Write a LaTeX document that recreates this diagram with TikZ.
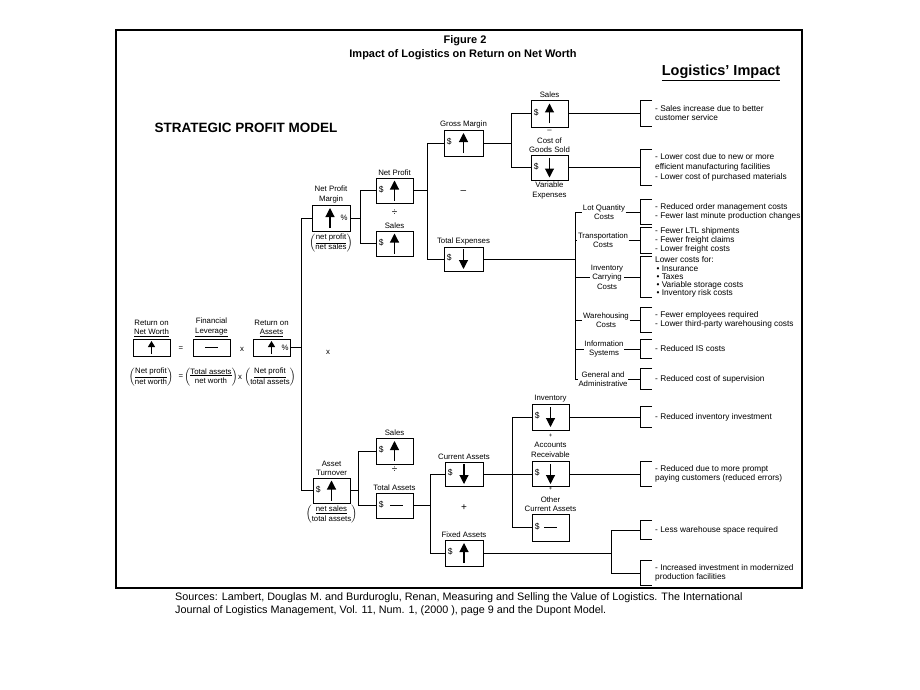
\documentclass[tikz,border=0pt]{standalone}
\usepackage{fontspec}
\setmainfont{Liberation Sans}
\usetikzlibrary{arrows.meta, positioning}

\newcommand\lblfont{\fontsize{7.8}{9.5}\selectfont}
\newcommand\impfont{\fontsize{8.3}{9}\selectfont}

\tikzset{
  valbox/.style={draw, line width=0.7pt, minimum width=37pt, minimum height=25pt, inner sep=0pt},
  smallbox/.style={valbox, minimum height=17pt},
  lbl/.style={font=\lblfont, align=center, inner sep=0.5pt},
  opsign/.style={font=\fontsize{10}{10}\selectfont, inner sep=0pt},
  impact/.style={font=\impfont, align=left, anchor=west, inner sep=0pt},
  conn/.style={line width=0.8pt},
  bigarr/.style={line width=1.1pt, -{Triangle[width=9pt,length=9pt]}},
  smallarr/.style={line width=0.9pt, -{Triangle[width=7pt,length=6pt]}},
}

% box contents
\newcommand\boxdollar[1]{\node[font=\fontsize{8.5}{9}\selectfont, anchor=west, inner sep=0pt] at ([xshift=3pt,yshift=1pt]#1.west) {\$};}
\newcommand\boxup[2][0pt]{\draw[bigarr] ([xshift=#1,yshift=-10pt]#2.center) -- ([xshift=#1,yshift=10pt]#2.center);}
\newcommand\boxdown[2][0pt]{\draw[bigarr] ([xshift=#1,yshift=10pt]#2.center) -- ([xshift=#1,yshift=-10pt]#2.center);}
\newcommand\smallup[2][0pt]{\draw[smallarr] ([xshift=#1,yshift=-6.5pt]#2.center) -- ([xshift=#1,yshift=6.5pt]#2.center);}
\newcommand\boxflat[2][0pt]{\draw[line width=0.8pt] ([xshift=#1-6.5pt]#2.center) -- ([xshift=#1+6.5pt]#2.center);}
% bracket in front of an impact text
\newcommand\impbrk[1]{\draw[conn] ([xshift=-3pt]#1.north west) -- ([xshift=-15pt]#1.north west) -- ([xshift=-15pt]#1.south west) -- ([xshift=-3pt]#1.south west);}

\begin{document}
\begin{tikzpicture}[x=1pt, y=-1pt]
  \useasboundingbox (0,0) rectangle (920,690);
  \draw[line width=1.3pt] (116,30) rectangle (802,588);

  % titles
  \node[font=\bfseries\fontsize{11}{12}\selectfont] (fig) at (465,41) {Figure 2};
  \node[font=\bfseries\fontsize{11}{12}\selectfont] (ttl) at (463,55) {Impact of Logistics on Return on Net Worth};
  \node[font=\bfseries\fontsize{14.5}{16}\selectfont] (li) at (721,73) {\underline{Logistics’ Impact}};
  \node[font=\bfseries\fontsize{13.5}{15}\selectfont] (spm) at (246,128) {STRATEGIC PROFIT MODEL};

  % return on net worth = leverage x return on assets
  \node[smallbox] (rnw) at (151.5,347.5) {};
  \node[lbl, above=1pt of rnw] (rnw-l) {Return on\\\underline{Net Worth}};
  \node[smallbox] (fl) at (211.5,347.5) {};
  \node[lbl, above=1pt of fl] (fl-l) {Financial\\\underline{Leverage}};
  \node[smallbox] (roa) at (271.5,347.5) {};
  \node[lbl, above=1pt of roa] (roa-l) {Return on\\\underline{Assets}};
  \node[lbl] (eq1) at (181,349) {=};
  \node[lbl] (x1) at (242,349) {x};
  \node[lbl] (f1) at (151,377) {$\left(\begin{tabular}{@{}c@{}}\underline{Net profit}\\net worth\end{tabular}\right)$};
  \node[lbl] (eq2) at (181,377) {=};
  \node[lbl] (f2) at (211,377) {$\left(\begin{tabular}{@{}c@{}}\underline{Total assets}\\net worth\end{tabular}\right)$};
  \node[lbl] (x2) at (240,377) {x};
  \node[lbl] (f3) at (270,377) {$\left(\begin{tabular}{@{}c@{}}\underline{Net profit}\\total assets\end{tabular}\right)$};
  \node[lbl] (x0) at (328,352) {x};
  \smallup{rnw}
  \boxflat{fl}
  \smallup{roa}
  \node[lbl, anchor=east] (roa-p) at ([xshift=-1pt]roa.east) {\%};

  % net profit margin
  \node[valbox, minimum width=38pt, minimum height=26pt] (npm) at (331,218) {};
  \node[lbl, above=1pt of npm] (npm-l) {Net Profit\\Margin};
  \node[lbl, below=1pt of npm] (npm-f) {$\left(\begin{tabular}{@{}c@{}}\underline{net profit}\\net sales\end{tabular}\right)$};
  \node[lbl, anchor=east] (npm-p) at ([xshift=-2pt]npm.east) {\%};
  \boxup[-1pt]{npm}

  \node[valbox] (np) at (394.5,190.5) {};
  \node[lbl, above=1pt of np] (np-l) {Net Profit};
  \node[opsign] (div1) at (394.5,213) {÷};
  \node[valbox] (ns) at (394.5,243.5) {};
  \node[lbl, above=1pt of ns] (ns-l) {Sales};

  \node[valbox, minimum width=39pt, minimum height=26pt] (gm) at (463.5,143) {};
  \node[lbl, above=1pt of gm] (gm-l) {Gross Margin};
  \node[opsign] (minus1) at (463.5,192) {–};
  \node[valbox, minimum width=39pt, minimum height=24pt] (te) at (463.5,259) {};
  \node[lbl, above=1pt of te] (te-l) {Total Expenses};

  \node[valbox, minimum height=27pt] (gs) at (549.5,113.5) {};
  \node[lbl, above=1pt of gs] (gs-l) {Sales};
  \node[lbl] (minus2) at (549.5,131) {–};
  \node[valbox] (cg) at (549.5,167.5) {};
  \node[lbl, above=1pt of cg] (cg-l) {Cost of\\Goods Sold};
  \node[lbl, below=1pt of cg] (cg-v) {Variable\\Expenses};

  % cost items
  \node[lbl] (lq) at (604,212) {Lot Quantity\\Costs};
  \node[lbl] (tr) at (603,240) {Transportation\\Costs};
  \node[lbl] (ic) at (607,277) {Inventory\\Carrying\\Costs};
  \node[lbl] (wh) at (606,320) {Warehousing\\Costs};
  \node[lbl] (is) at (604,349) {Information\\Systems};
  \node[lbl] (ga) at (603,379) {General and\\Administrative};

  % asset turnover
  \node[valbox] (turn) at (331.5,490.5) {};
  \node[lbl, above=1pt of turn] (turn-l) {Asset\\Turnover};
  \node[lbl, below=1pt of turn] (turn-f) {$\left(\begin{tabular}{@{}c@{}}\underline{net sales}\\total assets\end{tabular}\right)$};
  \node[valbox, minimum height=26pt] (tsal) at (394.5,451) {};
  \node[lbl, above=1pt of tsal] (tsal-l) {Sales};
  \node[opsign] (div2) at (394.5,470) {÷};
  \node[valbox] (ta) at (394.5,505.5) {};
  \node[lbl, above=1pt of ta] (ta-l) {Total Assets};

  \node[valbox, minimum width=38pt, minimum height=24pt] (ca) at (464,474) {};
  \node[lbl, above=1pt of ca] (ca-l) {Current Assets};
  \node[opsign] (plus1) at (464,508) {+};
  \node[valbox, minimum width=38pt, minimum height=26pt] (fa) at (464,553) {};
  \node[lbl, above=1pt of fa] (fa-l) {Fixed Assets};

  \node[valbox, minimum height=26pt] (inv) at (550.5,417) {};
  \node[lbl, above=1pt of inv] (inv-l) {Inventory};
  \node[lbl, font=\fontsize{6}{6}\selectfont] (plus2) at (550.5,436) {+};
  \node[valbox] (ar) at (550.5,474) {};
  \node[lbl, above=3pt of ar] (ar-l) {Accounts\\Receivable};
  \node[lbl, font=\fontsize{6}{6}\selectfont] (plus3) at (550.5,489) {+};
  \node[valbox, minimum height=27pt] (oca) at (550.5,527.5) {};
  \node[lbl, above=1pt of oca] (oca-l) {Other\\Current Assets};

  \foreach \b in {np,ns,gm,gs,tsal,fa,turn} {\boxdollar{\b} \boxup{\b}}
  \foreach \b in {te,cg,ca,inv,ar} {\boxdollar{\b} \boxdown{\b}}
  \boxdollar{ta} \boxflat[2pt]{ta}
  \boxdollar{oca} \boxflat{oca}

  % logistics impacts
  \node[impact, minimum height=25pt] (isal) at (655,113.5) {- Sales increase due to better\\customer service};
  \node[impact, minimum height=35pt, font=\fontsize{8.3}{10}\selectfont] (icg) at (655,167.5) {- Lower cost due to new or more\\efficient manufacturing facilities\\- Lower cost of purchased materials};
  \node[impact, minimum height=24pt] (ilq) at (655,212) {- Reduced order management costs\\- Fewer last minute production changes};
  \node[impact] (itr) at (655,240) {- Fewer LTL shipments\\- Fewer freight claims\\- Lower freight costs};
  \node[impact, font=\fontsize{8.3}{8.1}\selectfont] (iic) at (655,277) {Lower costs for:\\\,• Insurance\\\,• Taxes\\\,• Variable storage costs\\\,• Inventory risk costs};
  \node[impact, minimum height=24pt] (iwh) at (655,320) {- Fewer employees required\\- Lower third-party warehousing costs};
  \node[impact, minimum height=18pt] (iis) at (655,349) {- Reduced IS costs};
  \node[impact, minimum height=20pt] (iga) at (655,379) {- Reduced cost of supervision};
  \node[impact, minimum height=20pt] (iinv) at (655,417) {- Reduced inventory investment};
  \node[impact, minimum height=25pt] (iar) at (655,474) {- Reduced due to more prompt\\paying customers (reduced errors)};
  \node[impact, minimum height=18pt] (ilw) at (655,530) {- Less warehouse space required};
  \node[impact, minimum height=25pt] (iii) at (655,573) {- Increased investment in modernized\\production facilities};
  \foreach \b in {isal,icg,ilq,itr,iic,iwh,iis,iga,iinv,iar,ilw,iii} {\impbrk{\b}}

  % connectors
  \coordinate (jroa) at (301,0);
  \coordinate (jnpm) at (360,0);
  \coordinate (jnp) at (427,0);
  \coordinate (jgm) at (511,0);
  \coordinate (jte) at (575,0);
  \coordinate (jturn) at (358,0);
  \coordinate (jta) at (430,0);
  \coordinate (jca) at (512,0);
  \coordinate (jfa) at (611,0);

  \draw[conn] (roa.east) -- (roa.east -| jroa);
  \draw[conn] (npm.west) -- (npm.west -| jroa) -- (turn.west -| jroa) -- (turn.west);

  \draw[conn] (npm.east) -- (npm.east -| jnpm);
  \draw[conn] (np.west) -- (np.west -| jnpm) -- (ns.west -| jnpm) -- (ns.west);
  \draw[conn] (np.east) -- (np.east -| jnp);
  \draw[conn] (gm.west) -- (gm.west -| jnp) -- (te.west -| jnp) -- (te.west);
  \draw[conn] (gm.east) -- (gm.east -| jgm);
  \draw[conn] (gs.west) -- (gs.west -| jgm) -- (cg.west -| jgm) -- (cg.west);
  \draw[conn] (gs.east) -- ([xshift=-15pt]isal.west);
  \draw[conn] (cg.east) -- ([xshift=-15pt]icg.west);

  \draw[conn] (te.east) -- (te.east -| jte);
  \draw[conn] (lq.west -| jte) -- (ga.west -| jte);
  \foreach \n in {lq,tr,ic,wh,is,ga} {
    \draw[conn] (\n.west -| jte) -- (\n.west);
    \draw[conn] (\n.east) -- ([xshift=-15pt]i\n.west);
  }

  \draw[conn] (turn.east) -- (turn.east -| jturn);
  \draw[conn] (tsal.west) -- (tsal.west -| jturn) -- (ta.west -| jturn) -- (ta.west);
  \draw[conn] (ta.east) -- (ta.east -| jta);
  \draw[conn] (ca.west) -- (ca.west -| jta) -- (fa.west -| jta) -- (fa.west);
  \draw[conn] (ca.east) -- (ar.west);
  \draw[conn] (inv.west) -- (inv.west -| jca) -- (oca.west -| jca) -- (oca.west);
  \draw[conn] (inv.east) -- ([xshift=-15pt]iinv.west);
  \draw[conn] (ar.east) -- ([xshift=-15pt]iar.west);
  \draw[conn] (fa.east) -- (fa.east -| jfa);
  \draw[conn] ([xshift=-15pt]ilw.west) -- (ilw.west -| jfa) -- (iii.west -| jfa) -- ([xshift=-15pt]iii.west);

  % sources
  \node[font=\fontsize{10.8}{13}\selectfont, align=left, anchor=north west, inner sep=0pt] (src) at (175,592) {Sources: Lambert, Douglas M. and Burduroglu, Renan, Measuring and Selling the Value of Logistics. The International\\Journal of Logistics Management, Vol. 11, Num. 1, (2000 ), page 9 and the Dupont Model.};
\end{tikzpicture}
\end{document}
